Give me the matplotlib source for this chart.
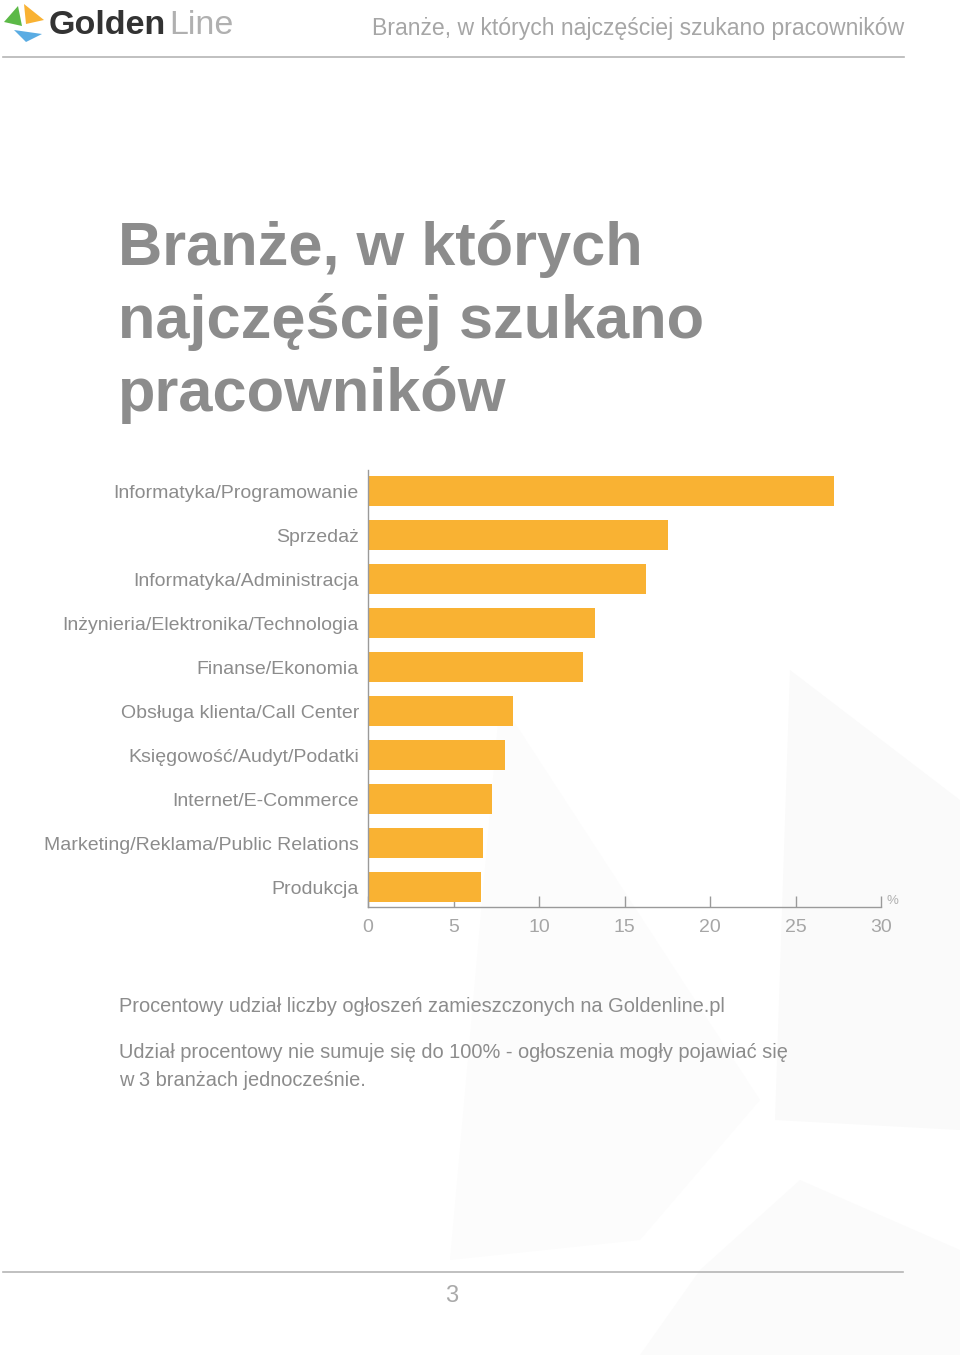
import matplotlib.pyplot as plt
import matplotlib.patches as mpatches

plt.rcParams['font.family'] = ['Liberation Sans', 'DejaVu Sans']

categories = ['Informatyka/Programowanie', 'Sprzedaż', 'Informatyka/Administracja',
              'Inżynieria/Elektronika/Technologia', 'Finanse/Ekonomia',
              'Obsługa klienta/Call Center', 'Księgowość/Audyt/Podatki',
              'Internet/E-Commerce', 'Marketing/Reklama/Public Relations', 'Produkcja']
values = [27.25, 17.55, 16.25, 13.25, 12.55, 8.5, 8.0, 7.25, 6.75, 6.6]
xticks = [0, 5, 10, 15, 20, 25, 30]

W, H = 960, 1355
fig = plt.figure(figsize=(W / 100, H / 100), dpi=100)
grey = '#8c8c8c'
light = '#a6a6a6'

def fx(px):
    return px / W

def fy(py):
    return 1 - py / H

def poly(pts, color):
    fig.add_artist(mpatches.Polygon([(fx(a), fy(b)) for a, b in pts], closed=True,
                                    color=color, lw=0, transform=fig.transFigure, zorder=0))

# faint background shapes
poly([(790, 670), (960, 800), (960, 1130), (775, 1120)], '#fafafa')
poly([(500, 700), (760, 1100), (640, 1240), (450, 1260)], '#fcfcfc')
poly([(700, 1270), (800, 1180), (960, 1250), (960, 1355), (640, 1355)], '#fbfbfb')

# header
fig.add_artist(plt.Line2D([fx(3), fx(904)], [fy(57), fy(57)], color='#b5b5b5', lw=1.2))
fig.text(fx(904), fy(29), 'Branże, w których najczęściej szukano pracowników',
         ha='right', va='center', fontsize=16.6, color=light)
fig.text(fx(49), fy(26), 'Golden', ha='left', va='center', fontsize=24.5,
         fontweight='bold', color='#333333')
fig.text(fx(169), fy(26), 'Line', ha='left', va='center', fontsize=24.5, color='#b0b0b0')

# logo icon
poly([(4, 22), (18, 6), (22, 26)], '#5cb947')
poly([(24, 4), (44, 20), (26, 24)], '#f9b233')
poly([(14, 30), (42, 34), (26, 42)], '#5aace3')

# title
title_lines = ['Branże, w których', 'najczęściej szukano', 'pracowników']
for i, line in enumerate(title_lines):
    fig.text(fx(118), fy(265 + i * 73), line, ha='left', va='baseline',
             fontsize=44.2, fontweight='bold', color=grey)

# chart
ax = fig.add_axes([fx(368), fy(907), fx(881) - fx(368), (907 - 470) / H])
y = list(range(len(categories)))
ax.barh(y, values, height=0.68, color='#f9b233', zorder=2)
ax.set_xlim(0, 30)
ax.set_ylim(9.45, -0.48)
ax.set_yticks(y)
ax.set_yticklabels(categories, fontsize=14.0, color=grey)
ax.set_xticks(xticks)
ax.set_xticklabels([str(t) for t in xticks], fontsize=14, color=light)
ax.tick_params(axis='y', length=0, pad=6.5)
ax.tick_params(axis='x', direction='in', length=8, width=1, color='#9a9a9a', pad=9)
for s in ['top', 'right']:
    ax.spines[s].set_visible(False)
for s in ['left', 'bottom']:
    ax.spines[s].set_color('#9a9a9a')
    ax.spines[s].set_linewidth(1)
ax.patch.set_alpha(0)
ax.text(30.35, 9.45, '%', ha='left', va='bottom', fontsize=9.5, color='#b0b0b0')

# captions
fig.text(fx(119), fy(1007), 'Procentowy udział liczby ogłoszeń zamieszczonych na Goldenline.pl',
         ha='left', va='center', fontsize=14.4, color=grey)
fig.text(fx(119), fy(1053), 'Udział procentowy nie sumuje się do 100% - ogłoszenia mogły pojawiać się',
         ha='left', va='center', fontsize=14.4, color=grey)
fig.text(fx(119), fy(1080), 'w 3 branżach jednocześnie.',
         ha='left', va='center', fontsize=14.4, color=grey)

# footer
fig.add_artist(plt.Line2D([fx(3), fx(903)], [fy(1272), fy(1272)], color='#b5b5b5', lw=1.2))
fig.text(fx(452), fy(1296), '3', ha='center', va='center', fontsize=17, color='#aaaaaa')

fig.savefig('out.png', dpi=100)
